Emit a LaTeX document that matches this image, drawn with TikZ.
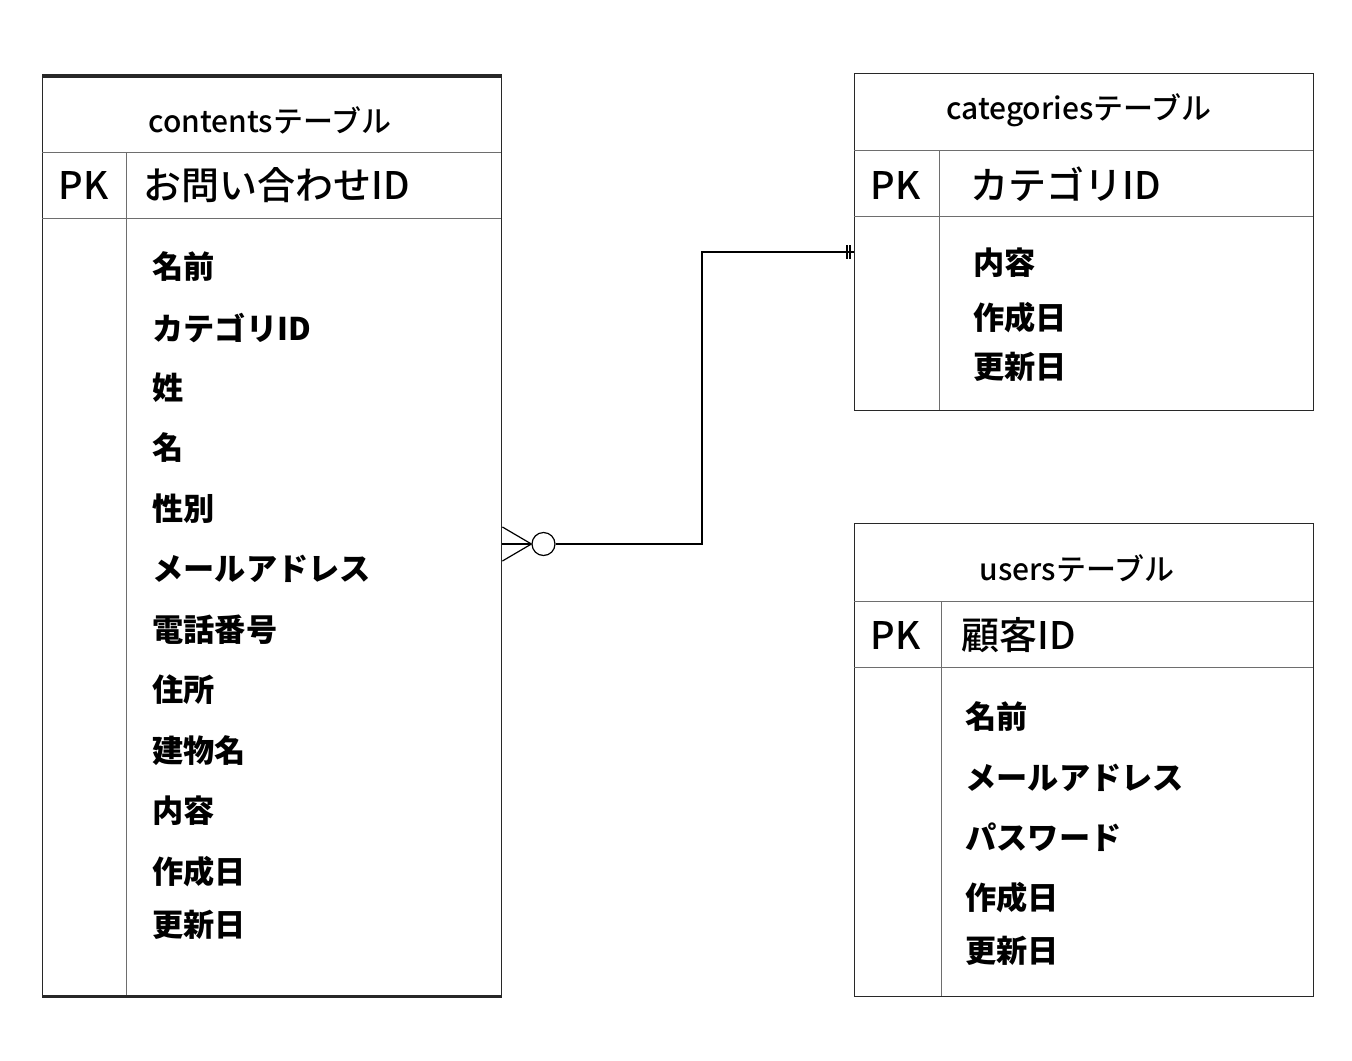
\documentclass[tikz,border=0pt]{standalone}
\usepackage{fontspec}
\setmainfont{Noto Sans CJK JP}
\newfontfamily\mediumfont{Noto Sans CJK JP Medium}
\usetikzlibrary{positioning, calc}
\definecolor{cFrame}{RGB}{40,40,40}
\definecolor{cRule}{RGB}{110,110,110}

\begin{document}
\begin{tikzpicture}[x=0.5pt, y=-0.5pt,
  frame/.style={draw=cFrame, line width=0.7pt, inner sep=0pt, anchor=north west},
  rule/.style={draw=cRule, line width=0.5pt},
  title/.style={font=\fontsize{15}{17}\selectfont\mediumfont, anchor=center},
  pk/.style={font=\fontsize{19}{21}\selectfont\mediumfont, anchor=west, inner sep=0pt},
  field/.style={font=\fontsize{15.6}{18}\selectfont\bfseries, anchor=west, inner sep=0pt},
  link/.style={draw=black, line width=0.6pt}]
  \useasboundingbox (0,0) rectangle (1352,1060);

  % contents table
  \node[frame, minimum width=229.5pt, minimum height=459.5pt] (contents) at (42,76) {};
  \draw[cFrame, line width=1.6pt] (contents.north west) -- (contents.north east);
  \draw[cFrame, line width=1.6pt] (contents.south west) -- (contents.south east);
  \draw[rule] (42,152) -- (501,152);
  \draw[rule] (42,218) -- (501,218);
  \draw[rule] (126,152) -- (126,995);
  \node[title] (contentsT) at (270,120) {contentsテーブル};
  \node[pk] (contentsPK) at (58,185) {PK};
  \node[pk] (contentsID) at (143,185) {お問い合わせID};
  \foreach \y/\t [count=\i] in {267/名前, 328/カテゴリID, 388/姓, 448/名, 509/性別,
      569/メールアドレス, 630/電話番号, 690/住所, 751/建物名, 811/内容, 872/作成日, 925/更新日}
    \node[field] (cf\i) at (152,\y) {\t};

  % categories table
  \node[frame, minimum width=229.5pt, minimum height=168.5pt] (categories) at (854,73) {};
  \draw[rule] (854,150) -- (1313,150);
  \draw[rule] (854,216) -- (1313,216);
  \draw[rule] (939,150) -- (939,410);
  \node[title] (categoriesT) at (1079,110) {categoriesテーブル};
  \node[pk] (categoriesPK) at (870,185) {PK};
  \node[pk] (categoriesID) at (970,184) {カテゴリID};
  \foreach \y/\t [count=\i] in {263/内容, 318/作成日, 367/更新日}
    \node[field] (kf\i) at (973,\y) {\t};

  % users table
  \node[frame, minimum width=229.5pt, minimum height=236.5pt] (users) at (854,523) {};
  \draw[rule] (854,601) -- (1313,601);
  \draw[rule] (854,667) -- (1313,667);
  \draw[rule] (941,601) -- (941,996);
  \node[title] (usersT) at (1077,568) {usersテーブル};
  \node[pk] (usersPK) at (870,635) {PK};
  \node[pk] (usersID) at (961,635) {顧客ID};
  \foreach \y/\t [count=\i] in {717/名前, 778/メールアドレス, 837/パスワード, 898/作成日, 951/更新日}
    \node[field] (uf\i) at (965,\y) {\t};

  % relation: many (zero or more) contents -- one categories
  \coordinate (manyEnd) at (contents.east |- 0,544);
  \coordinate (oneEnd) at (categories.west |- 0,252);
  \node[draw, circle, line width=0.6pt, minimum size=11.5pt, inner sep=0pt, right=29 of manyEnd] (zero) {};
  \draw[link] ($(manyEnd)+(0,-17)$) -- (zero.west);
  \draw[link, line width=1.1pt] (manyEnd) -- (zero.west);
  \draw[link] ($(manyEnd)+(0,17)$) -- (zero.west);
  \draw[link] (zero.east) -| (702,252) -- (oneEnd);
  \draw[link] ($(oneEnd)+(-7,-7)$) -- ++(0,14);
  \draw[link] ($(oneEnd)+(-4,-7)$) -- ++(0,14);
\end{tikzpicture}
\end{document}
